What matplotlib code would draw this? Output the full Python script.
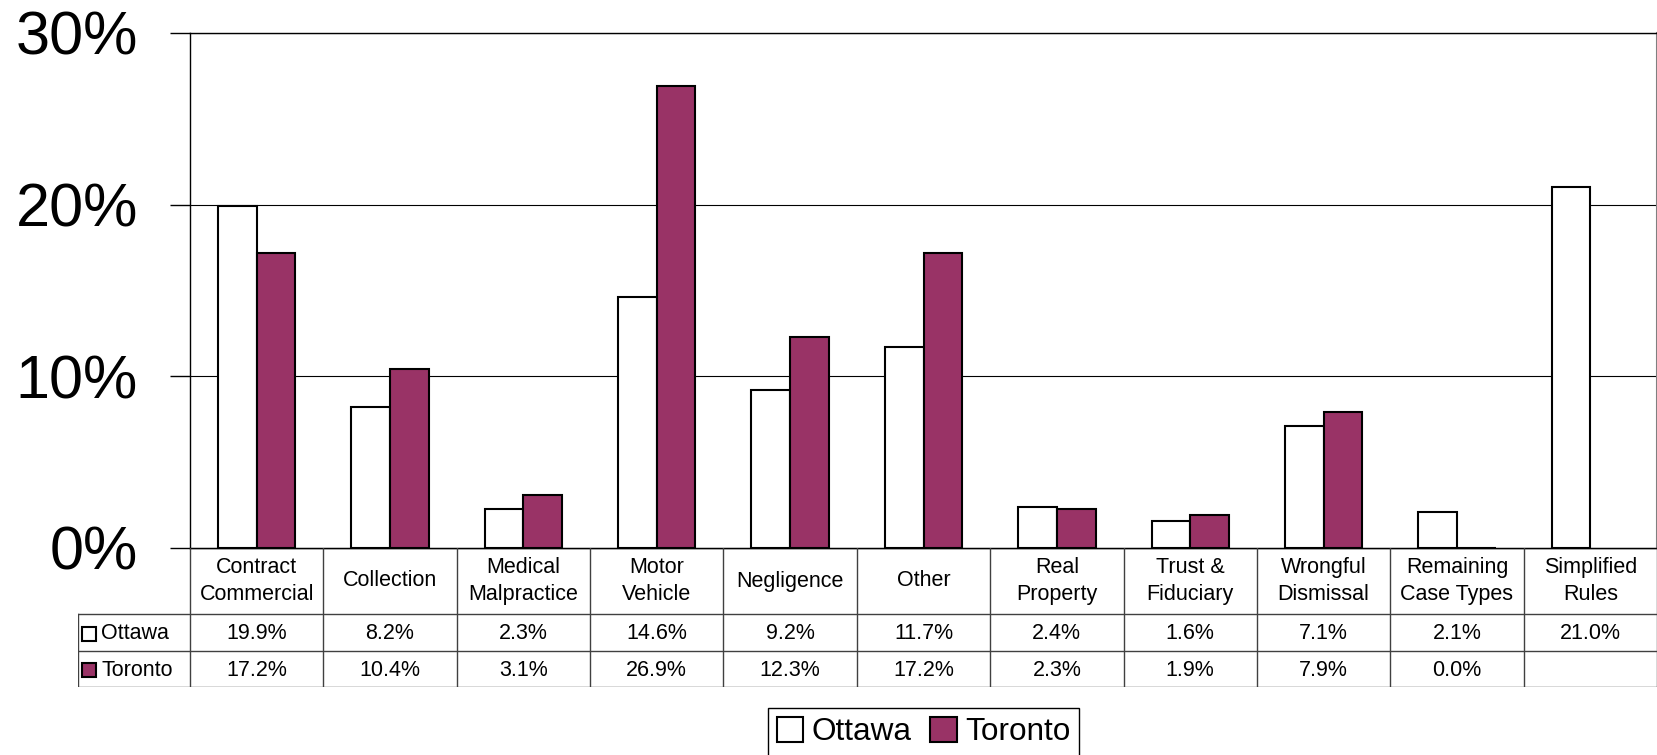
import numpy as np
import matplotlib.pyplot as plt
from matplotlib.patches import Rectangle

plt.rcParams['font.family'] = ['Liberation Sans', 'DejaVu Sans']

categories = ['Contract\nCommercial', 'Collection', 'Medical\nMalpractice', 'Motor\nVehicle',
              'Negligence', 'Other', 'Real\nProperty', 'Trust &\nFiduciary', 'Wrongful\nDismissal',
              'Remaining\nCase Types', 'Simplified\nRules']
ottawa = [19.9, 8.2, 2.3, 14.6, 9.2, 11.7, 2.4, 1.6, 7.1, 2.1, 21.0]
toronto = [17.2, 10.4, 3.1, 26.9, 12.3, 17.2, 2.3, 1.9, 7.9, 0.0, None]
yticks = [0, 10, 20, 30]

purple = '#993366'
W, H = 1658, 755
fig = plt.figure(figsize=(W / 100, H / 100), dpi=100)

# main plot area (pixel layout)
L, R, T, B = 190, 1657, 33, 548
ax = fig.add_axes([L / W, 1 - B / H, (R - L) / W, (B - T) / H])
n = len(categories)
x = np.arange(n)
w = 0.29
ax.bar(x - w / 2, ottawa, w, color='white', edgecolor='black', linewidth=1.5, zorder=3)
tx = [i for i in x if toronto[i] is not None]
tv = [toronto[i] for i in tx]
ax.bar(np.array(tx) + w / 2, tv, w, color=purple, edgecolor='black', linewidth=1.5, zorder=3)

ax.set_xlim(-0.5, n - 0.5)
ax.set_ylim(0, 30)
ax.set_yticks(yticks)
ax.set_yticklabels(['%d%%' % v for v in yticks], fontsize=44)
ax.tick_params(axis='y', length=14.4, width=1, pad=23, direction='out')
ax.set_xticks([])
ax.yaxis.grid(True, color='black', linewidth=0.8, zorder=0)
for s in ['left', 'top', 'bottom']:
    ax.spines[s].set_color('black')
    ax.spines[s].set_linewidth(1)
ax.spines['right'].set_color('#808080')
ax.spines['right'].set_linewidth(1.5)

# data table underneath
TL, TB = 78, 687
unit = (R - L) / n
x0 = -0.5 - (L - TL) / unit
tax = fig.add_axes([TL / W, 1 - TB / H, (R - TL) / W, (TB - B) / H])
tax.set_xlim(x0, n - 0.5)
tax.set_ylim(TB - B, 0)
tax.axis('off')
r1, r2, r3 = 66, 103, TB - B
lc = '#404040'
tax.plot([-0.5, n - 0.5], [0, 0], color='black', lw=1)
for yy in [r1, r2, r3]:
    tax.plot([x0, n - 0.5], [yy, yy], color=lc, lw=1)
for i in range(n + 1):
    tax.plot([i - 0.5, i - 0.5], [0, r3], color=lc, lw=1)
tax.plot([x0, x0], [r1, r3], color=lc, lw=1)

for i, c in enumerate(categories):
    tax.text(i, r1 / 2, c, ha='center', va='center', fontsize=15.5, linespacing=1.4)
    tax.text(i, (r1 + r2) / 2 + 1, '%.1f%%' % ottawa[i], ha='center', va='center', fontsize=15.5)
    if toronto[i] is not None:
        tax.text(i, (r2 + r3) / 2 + 1, '%.1f%%' % toronto[i], ha='center', va='center', fontsize=15.5)

sq = 14 / unit
for (lab, col, y0, y1) in [('Ottawa', 'white', r1, r2), ('Toronto', purple, r2, r3)]:
    cy = (y0 + y1) / 2 + 1
    tax.add_patch(Rectangle((x0 + 4 / unit, cy - 7), sq, 14, facecolor=col,
                            edgecolor='black', lw=1.5, clip_on=False))
    tax.text(x0 + 23 / unit, cy, lab, ha='left', va='center', fontsize=15.5)

# legend
handles = [Rectangle((0, 0), 1, 1, facecolor='white', edgecolor='black', lw=1.5),
           Rectangle((0, 0), 1, 1, facecolor=purple, edgecolor='black', lw=1.5)]
leg = fig.legend(handles, ['Ottawa', 'Toronto'], loc='upper center',
                 bbox_to_anchor=((L + R) / 2 / W, 1 - 708 / H), ncol=2, fontsize=22.7,
                 handlelength=0.85, handleheight=0.85, handletextpad=0.25, columnspacing=0.6,
                 borderpad=0.28, borderaxespad=0, fancybox=False, edgecolor='black',
                 framealpha=1)
leg.get_frame().set_linewidth(1)

fig.savefig('out.png', dpi=100)
